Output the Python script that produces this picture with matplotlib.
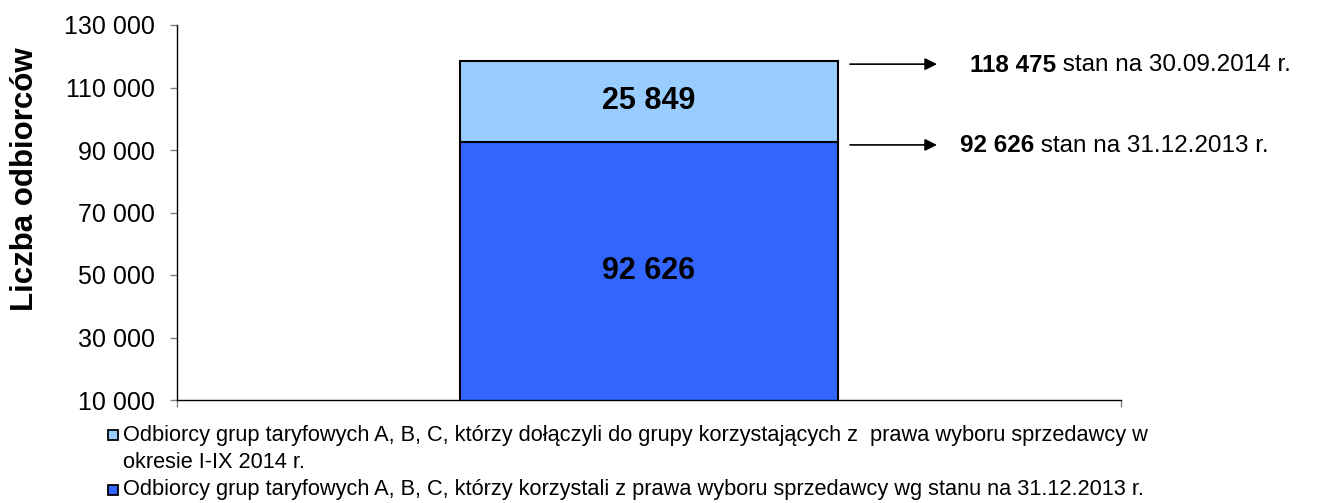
import numpy as np
import matplotlib
matplotlib.use('Agg')
import matplotlib.pyplot as plt
from matplotlib.patches import Rectangle

plt.rcParams['font.family'] = ['Liberation Sans', 'DejaVu Sans']

# data
base_values = [92626]      # stan na 31.12.2013
added_values = [25849]     # dolaczyli w okresie I-IX 2014
total_values = [118475]    # stan na 30.09.2014
yticks = [10000, 30000, 50000, 70000, 90000, 110000, 130000]
base_label = ['Odbiorcy grup taryfowych A, B, C, którzy korzystali z prawa wyboru sprzedawcy wg stanu na 31.12.2013 r.']
added_label = ['Odbiorcy grup taryfowych A, B, C, którzy dołączyli do grupy korzystających z  prawa wyboru sprzedawcy w',
               'okresie I-IX 2014 r.']
annot_base = ('92 626', ' stan na 31.12.2013 r.')
annot_total = ('118 475', ' stan na 30.09.2014 r.')

dark_blue = '#3366FF'
light_blue = '#99CCFF'


def fmt(v):
    return f'{v:,}'.replace(',', ' ')


fig = plt.figure(figsize=(13.41, 5.03), dpi=100)
W, H = 1341, 503
ax = fig.add_axes([177/W, 1 - 400/H, 944/W, 375/H])

ax.bar(0, base_values[0], width=0.4, color=dark_blue, edgecolor='black', linewidth=1.5, zorder=2)
ax.bar(0, added_values[0], bottom=base_values[0], width=0.4, color=light_blue,
       edgecolor='black', linewidth=1.5, zorder=2)

ymin, ymax = yticks[0], yticks[-1]
ax.set_xlim(-0.5, 0.5)
ax.set_ylim(ymin, ymax)
ax.set_yticks(yticks)
ax.set_yticklabels([fmt(v) for v in yticks], fontsize=18)
ax.set_xticks([-0.5, 0.5])
ax.set_xticklabels(['', ''])
ax.tick_params(axis='both', color='#808080', length=5, width=1, direction='out')
ax.tick_params(axis='y', pad=11)
for s in ['top', 'right']:
    ax.spines[s].set_visible(False)
for s in ['left', 'bottom']:
    ax.spines[s].set_linewidth(1.0)

# values inside the bar
ax.text(0, (max(ymin, 0) + base_values[0]) / 2, fmt(base_values[0]), ha='center', va='center',
        fontsize=22, fontweight='bold', zorder=3)
ax.text(0, base_values[0] + added_values[0] / 2, fmt(added_values[0]), ha='center', va='center',
        fontsize=22, fontweight='bold', zorder=3)

# arrows with descriptions
for v, (num, rest), tx in [(total_values[0], annot_total, 0.340), (base_values[0], annot_base, 0.329)]:
    ya = v - 1000
    ax.annotate('', xy=(0.308, ya), xytext=(0.21, ya),
                arrowprops=dict(arrowstyle='-|>', color='black', lw=1.2, mutation_scale=18),
                annotation_clip=False)
    t = ax.text(tx, ya - 300, num, ha='left', va='center', fontsize=17.5, fontweight='bold')
    fig.canvas.draw()
    bb = t.get_window_extent()
    x_end = ax.transData.inverted().transform((bb.x1, bb.y0))[0]
    ax.text(x_end, ya - 300, rest, ha='left', va='center', fontsize=17.5)

fig.text(25/W, 1 - 179/H, 'Liczba odbiorców', rotation=90, ha='center', va='center',
         fontsize=22.5, fontweight='bold')

# legend drawn by hand so the square sits on the first line of a wrapped label
legend_rows = [(light_blue, added_label, 435), (dark_blue, base_label, 490)]
for color, lines, yc in legend_rows:
    fig.patches.append(Rectangle((108/W, 1 - (yc + 5)/H), 10/W, 10/H, transform=fig.transFigure,
                                 facecolor=color, edgecolor='black', linewidth=1.3))
    for i, line in enumerate(lines):
        fig.text(123/W, 1 - (yc + 27 * i)/H, line, ha='left', va='center', fontsize=15.7)

fig.savefig('out.png', dpi=100)
